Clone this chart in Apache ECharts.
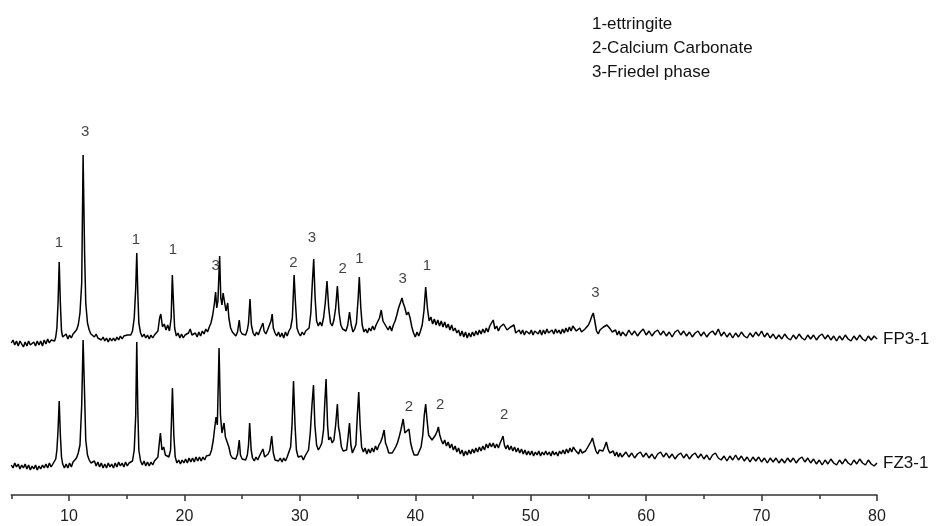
<!DOCTYPE html>
<html>
<head>
<meta charset="utf-8">
<script src="https://cdn.jsdelivr.net/npm/echarts@6.0.0/dist/echarts.min.js"></script>
<style>html,body{margin:0;padding:0;background:#fff}#chart{width:940px;height:526px}</style>
</head>
<body>
<div id="chart"></div>
<script>
// 2-theta (deg) vs intensity (arbitrary units)
const fp3Data = [
[5.0,30],[5.15,33],[5.3,28],[5.45,32],[5.6,27],[5.75,32],[5.9,29],[6.05,26],[6.2,31],[6.35,27],[6.5,32],[6.65,28],[6.8,26],[6.95,31],[7.1,27],[7.25,32],[7.4,28],[7.55,32],[7.7,27],[7.85,33],[8.0,29],[8.15,34],[8.3,30],[8.45,33],[8.6,34],[8.75,32],[8.85,36],[8.95,45],[9.05,70],[9.15,111],[9.25,70],[9.35,42],[9.45,36],[9.6,34],[9.75,39],[9.9,34],[10.05,38],[10.2,35],[10.35,39],[10.5,40],[10.65,43],[10.8,48],[10.95,60],[11.1,90],[11.22,218],[11.35,120],[11.45,70],[11.6,50],[11.75,43],[11.9,39],[12.05,38],
[12.2,36],[12.35,39],[12.5,35],[12.65,37],[12.8,33],[12.95,36],[13.1,32],[13.25,35],[13.4,31],[13.55,35],[13.7,32],[13.85,35],[14.0,32],[14.15,36],[14.3,33],[14.45,37],[14.6,34],[14.75,37],[14.9,35],[15.05,38],[15.2,36],[15.35,38],[15.5,42],[15.65,55],[15.78,85],[15.87,120],[15.96,80],[16.05,50],[16.2,40],[16.35,36],[16.5,39],[16.65,35],[16.8,38],[16.95,34],[17.1,38],[17.25,35],[17.4,38],[17.55,36],[17.7,42],[17.85,55],[17.95,59],[18.1,46],[18.25,49],[18.4,43],[18.55,48],[18.7,42],[18.85,55],[18.95,98],[19.05,70],[19.15,45],[19.3,37],[19.45,40],[19.6,35],[19.75,39],[19.9,35],[20.05,38],[20.2,36],[20.35,40],[20.5,44],[20.65,38],[20.8,36],[20.95,40],[21.1,36],[21.25,41],[21.4,37],[21.55,42],[21.7,39],[21.85,44],[22.0,41],[22.15,46],[22.3,50],[22.45,58],[22.6,70],[22.7,81],[22.8,65],[22.9,72],[23.05,117],[23.15,75],[23.25,68],[23.35,80],[23.5,78],[23.6,62],[23.75,70],[23.85,55],[24.0,45],[24.15,41],[24.3,43],[24.45,37],[24.6,41],[24.75,53],[24.85,42],[25.0,39],[25.15,41],[25.3,38],[25.45,43],[25.55,50],[25.68,74],[25.8,48],[25.95,40],[26.1,37],[26.25,41],[26.4,38],[26.55,43],[26.7,44],[26.8,50],[26.9,42],[27.05,39],[27.2,43],[27.35,44],[27.5,52],[27.6,59],[27.7,45],[27.85,40],[28.0,37],[28.15,41],[28.3,36],[28.45,40],[28.6,35],[28.75,41],[28.9,37],[29.05,42],[29.2,45],[29.35,55],[29.5,98],[29.62,70],[29.75,45],[29.9,40],[30.05,37],[30.2,41],[30.35,38],[30.5,42],[30.65,41],[30.8,45],[30.95,60],[31.08,90],[31.2,114],[31.32,75],[31.45,52],[31.6,47],[31.75,51],[31.9,47],[32.05,55],[32.2,70],[32.35,92],[32.5,65],[32.65,50],[32.8,47],[32.95,53],[33.1,65],[33.25,87],[33.4,60],[33.55,48],[33.7,44],[33.85,46],[34.0,42],[34.15,48],[34.3,61],[34.45,48],[34.6,41],[34.75,44],[34.9,50],[35.05,75],[35.15,96],[35.28,65],[35.4,48],[35.55,41],[35.7,44],[35.85,40],[36.0,45],[36.15,42],[36.3,47],[36.45,43],[36.6,48],[36.75,50],[36.9,55],[37.05,63],[37.2,52],[37.35,54],[37.5,46],[37.65,43],[37.8,47],[37.95,42],[38.1,48],[38.25,52],[38.4,58],[38.55,65],[38.7,70],[38.85,75],[38.95,70],[39.1,65],[39.25,58],[39.4,61],[39.55,55],[39.7,46],[39.85,40],[40.0,36],[40.15,41],[40.3,37],[40.45,42],[40.6,48],[40.75,62],[40.9,86],[41.05,65],[41.2,52],[41.35,56],[41.5,49],[41.65,54],[41.8,48],[41.95,53],[42.1,47],[42.25,52],[42.4,46],[42.55,51],[42.7,45],[42.85,49],[43.0,43],[43.15,48],[43.3,42],[43.45,45],[43.6,40],[43.75,43],[43.9,37],[44.05,42],[44.2,36],[44.35,41],[44.5,35],[44.65,40],[44.8,36],[44.95,41],[45.1,37],[45.25,42],[45.4,38],[45.55,43],[45.7,39],[45.85,44],[46.0,40],[46.15,45],[46.3,41],[46.45,47],[46.6,45],[46.75,53],[46.9,44],[47.05,47],[47.2,42],[47.35,46],[47.5,47],[47.65,49],[47.8,51],[47.95,43],[48.1,41],[48.25,46],[48.4,45],[48.55,48],[48.7,40],[48.85,38],[49.0,43],[49.15,39],[49.3,43],[49.45,38],[49.6,42],[49.75,44],[49.9,39],[50.05,43],[50.2,38],[50.35,42],[50.5,44],[50.65,39],[50.8,43],[50.95,38],[51.1,43],[51.25,39],[51.4,44],[51.55,40],[51.7,38],[51.85,43],[52.0,39],[52.15,44],[52.3,40],[52.45,43],[52.6,39],[52.75,44],[52.9,40],[53.05,45],[53.2,41],[53.35,46],[53.5,42],[53.65,47],[53.8,45],[53.95,42],[54.1,40],[54.25,45],[54.4,41],[54.55,39],[54.7,44],[54.85,45],[55.0,48],[55.15,52],[55.3,57],[55.42,60],[55.55,52],[55.7,42],[55.85,39],[56.0,43],[56.15,44],[56.3,46],[56.45,44],[56.6,48],[56.75,50],[56.9,44],[57.05,41],[57.2,39],[57.35,43],[57.5,38],[57.65,42],[57.8,37],[57.95,41],
[58.0,41],[58.25,37],[58.5,43],[58.75,38],[59.0,42],[59.25,37],[59.5,41],[59.75,44],[60.0,38],[60.25,42],[60.5,37],[60.75,41],[61.0,43],[61.25,38],[61.5,42],[61.75,37],[62.0,41],[62.25,36],[62.5,41],[62.75,43],[63.0,38],[63.25,42],[63.5,37],[63.75,41],[64.0,36],[64.25,40],[64.5,42],[64.75,37],[65.0,41],[65.25,36],[65.5,40],[65.75,42],[66.0,38],[66.25,44],[66.5,37],[66.75,41],[67.0,36],[67.25,40],[67.5,35],[67.75,40],[68.0,36],[68.25,41],[68.5,37],[68.75,35],[69.0,40],[69.25,36],[69.5,41],[69.75,37],[70.0,42],[70.25,36],[70.5,40],[70.75,35],[71.0,39],[71.25,34],[71.5,38],[71.75,34],[72.0,39],[72.25,35],[72.5,33],[72.75,38],[73.0,34],[73.25,39],[73.5,35],[73.75,33],[74.0,38],[74.25,34],[74.5,38],[74.75,33],[75.0,37],[75.25,39],[75.5,34],[75.75,38],[76.0,33],[76.25,37],[76.5,32],[76.75,37],[77.0,33],[77.25,38],[77.5,34],[77.75,32],[78.0,37],[78.25,33],[78.5,38],[78.75,34],[79.0,32],[79.25,37],[79.5,33],[79.75,37],[80.0,34]
];
const fz3Data = [
[5.0,30],[5.15,27],[5.3,32],[5.45,28],[5.6,31],[5.75,26],[5.9,30],[6.05,27],[6.2,31],[6.35,26],[6.5,30],[6.65,25],[6.8,29],[6.95,26],[7.1,30],[7.25,25],[7.4,29],[7.55,26],[7.7,30],[7.85,27],[8.0,31],[8.15,27],[8.3,32],[8.45,28],[8.6,31],[8.75,32],[8.85,36],[8.95,45],[9.05,65],[9.15,94],[9.25,60],[9.35,38],[9.45,31],[9.6,27],[9.75,31],[9.9,27],[10.05,32],[10.2,28],[10.35,33],[10.5,35],[10.65,37],[10.8,42],[10.95,50],[11.1,90],[11.22,155],[11.35,100],[11.45,55],[11.6,40],[11.75,35],[11.9,32],[12.05,30],[12.2,34],[12.35,29],[12.5,33],[12.65,28],[12.8,32],[12.95,27],[13.1,31],[13.25,27],[13.4,32],[13.55,28],[13.7,31],[13.85,27],[14.0,32],[14.15,28],[14.3,33],[14.45,29],[14.6,32],[14.75,28],[14.9,33],[15.05,29],[15.2,32],[15.35,30],[15.5,34],[15.65,45],[15.78,80],[15.87,153],[15.96,85],[16.05,45],[16.2,34],[16.35,30],[16.5,34],[16.65,29],[16.8,33],[16.95,29],[17.1,33],[17.25,30],[17.4,34],[17.55,32],[17.7,38],[17.85,55],[17.92,62],[18.05,45],[18.2,48],[18.35,40],[18.5,42],[18.65,38],[18.8,45],[18.96,107],[19.08,60],[19.2,38],[19.35,32],[19.5,35],[19.65,31],[19.8,35],[19.95,32],[20.1,36],[20.25,32],[20.4,37],[20.55,33],[20.7,37],[20.85,33],[21.0,38],[21.15,34],[21.3,38],[21.45,34],[21.6,38],[21.75,35],[21.9,39],[22.05,37],[22.2,40],[22.35,45],[22.5,55],[22.6,65],[22.74,78],[22.85,70],[23.0,147],[23.12,80],[23.25,62],[23.43,72],[23.55,58],[23.7,60],[23.85,48],[24.0,40],[24.15,37],[24.3,39],[24.45,36],[24.6,41],[24.75,55],[24.85,40],[25.0,36],[25.15,38],[25.3,35],[25.45,40],[25.55,50],[25.65,72],[25.78,45],[25.9,37],[26.05,34],[26.2,38],[26.35,35],[26.5,39],[26.65,40],[26.8,46],[26.95,38],[27.1,36],[27.25,41],[27.4,45],[27.56,59],[27.7,42],[27.85,35],[28.0,37],[28.15,34],[28.3,37],[28.45,33],[28.6,37],[28.75,34],[28.9,38],[29.05,40],[29.2,48],[29.32,70],[29.45,114],[29.58,70],[29.7,45],[29.85,38],[30.0,36],[30.15,39],[30.3,35],[30.45,39],[30.6,40],[30.75,45],[30.9,62],[31.05,90],[31.18,110],[31.3,70],[31.45,50],[31.6,45],[31.75,48],[31.9,52],[32.05,65],[32.15,90],[32.27,116],[32.4,70],[32.5,55],[32.65,58],[32.8,52],[32.95,55],[33.1,70],[33.25,91],[33.35,68],[33.45,62],[33.6,48],[33.75,44],[33.9,42],[34.05,45],[34.15,55],[34.3,72],[34.42,50],[34.55,42],[34.7,40],[34.85,50],[34.98,80],[35.1,103],[35.22,70],[35.35,48],[35.5,43],[35.65,47],[35.8,41],[35.95,46],[36.1,42],[36.25,47],[36.4,43],[36.55,49],[36.7,45],[36.85,50],[37.0,53],[37.15,58],[37.3,65],[37.42,52],[37.55,48],[37.7,42],[37.85,40],[38.0,42],[38.15,45],[38.3,48],[38.45,52],[38.6,58],[38.75,65],[38.95,76],[39.1,62],[39.25,60],[39.45,66],[39.6,52],[39.75,45],[39.9,40],[40.05,38],[40.2,40],[40.35,42],[40.5,48],[40.65,60],[40.78,80],[40.9,91],[41.02,75],[41.15,60],[41.3,58],[41.45,55],[41.6,56],[41.75,60],[41.9,64],[42.0,68],[42.12,60],[42.25,55],[42.4,51],[42.55,55],[42.7,49],[42.85,53],[43.0,47],[43.15,51],[43.3,45],[43.45,49],[43.6,43],[43.75,47],[43.9,41],[44.05,45],[44.2,39],[44.35,44],[44.5,40],[44.65,45],[44.8,41],[44.95,46],[45.1,42],[45.25,47],[45.4,43],[45.55,48],[45.7,44],[45.85,49],[46.0,45],[46.15,51],[46.3,47],[46.45,52],[46.6,48],[46.75,52],[46.9,47],[47.05,51],[47.2,47],[47.35,52],[47.5,56],[47.6,59],[47.72,50],[47.85,46],[48.0,50],[48.15,45],[48.3,49],[48.45,44],[48.6,48],[48.75,43],[48.9,47],[49.05,42],[49.2,46],[49.35,41],[49.5,45],[49.65,40],[49.8,44],[49.95,40],[50.1,44],[50.25,39],[50.4,43],[50.55,40],[50.7,44],[50.85,39],[51.0,43],[51.15,40],[51.3,44],[51.45,40],[51.6,43],[51.75,39],[51.9,44],[52.05,40],[52.2,43],[52.35,39],[52.5,44],[52.65,41],[52.8,45],[52.95,41],[53.1,46],[53.25,42],[53.4,47],[53.55,43],[53.7,48],[53.85,45],[54.0,43],[54.15,41],[54.3,46],[54.45,42],[54.6,40],[54.75,44],[54.9,47],[55.05,50],[55.2,53],[55.35,57],[55.5,50],[55.65,44],[55.8,41],[55.95,45],[56.1,46],[56.25,44],[56.4,48],[56.55,53],[56.7,46],[56.85,42],[57.0,40],[57.15,44],[57.3,39],[57.45,43],[57.6,38],[57.75,42],[57.9,38],
[58.0,40],[58.25,43],[58.5,38],[58.75,42],[59.0,37],[59.25,41],[59.5,43],[59.75,38],[60.0,42],[60.25,37],[60.5,41],[60.75,36],[61.0,41],[61.25,43],[61.5,38],[61.75,42],[62.0,37],[62.25,41],[62.5,36],[62.75,40],[63.0,42],[63.25,37],[63.5,41],[63.75,36],[64.0,40],[64.25,42],[64.5,37],[64.75,41],[65.0,36],[65.25,40],[65.5,35],[65.75,40],[66.0,42],[66.25,37],[66.5,35],[66.75,39],[67.0,34],[67.25,39],[67.5,35],[67.75,40],[68.0,35],[68.25,39],[68.5,34],[68.75,38],[69.0,33],[69.25,38],[69.5,34],[69.75,38],[70.0,33],[70.25,37],[70.5,32],[70.75,37],[71.0,33],[71.25,37],[71.5,32],[71.75,36],[72.0,32],[72.25,37],[72.5,33],[72.75,37],[73.0,32],[73.25,36],[73.5,38],[73.75,33],[74.0,37],[74.25,32],[74.5,36],[74.75,31],[75.0,35],[75.25,30],[75.5,35],[75.75,31],[76.0,36],[76.25,32],[76.5,30],[76.75,35],[77.0,31],[77.25,36],[77.5,32],[77.75,30],[78.0,35],[78.25,31],[78.5,36],[78.75,32],[79.0,30],[79.25,35],[79.5,31],[79.75,29],[80.0,32]
];
const seriesNames = ['FP3-1', 'FZ3-1'];
const seriesOffsets = [122, 0];
// peak annotations: [2theta, height, phase number]
const fpPeakLabels = [[9.13,252,'1'],[11.4,363,'3'],[15.8,255,'1'],[19.0,245,'1'],[22.7,229,'3'],[29.45,232,'2'],[31.05,257,'3'],[33.7,226,'2'],[35.15,236,'1'],[38.9,216,'3'],[41.0,229,'1'],[55.6,202,'3']];
const fzPeakLabels = [[39.45,88,'2'],[42.15,90,'2'],[47.7,80,'2']];
const legendLines = ['1-ettringite', '2-Calcium Carbonate', '3-Friedel phase'];
const majorTicks = [10,20,30,40,50,60,70,80];
const minorTicks = [5,15,25,35,45,55,65,75];

const FONT = '"Liberation Sans", Arial, sans-serif';
const chart = echarts.init(document.getElementById('chart'), null, {renderer: 'canvas'});
const traces = [fp3Data, fz3Data];
const lineSeries = traces.map((d, i) => ({
  type: 'line',
  name: seriesNames[i],
  data: d.map(p => [p[0], p[1] + seriesOffsets[i]]),
  showSymbol: false,
  symbol: 'none',
  smooth: false,
  lineStyle: {color: '#000', width: 1.5},
  endLabel: {show: true, formatter: '{a}', distance: 6, fontSize: 17, color: '#111', fontFamily: FONT},
  silent: true,
  z: 2
}));
const labelSeries = {
  type: 'scatter',
  data: fpPeakLabels.concat(fzPeakLabels).map(p => ({value: [p[0], p[1]], name: p[2]})),
  symbolSize: 1,
  itemStyle: {color: 'rgba(0,0,0,0)'},
  label: {show: true, position: 'inside', formatter: p => p.name, fontSize: 15, color: '#111', fontFamily: FONT},
  silent: true,
  z: 3
};
chart.setOption({
  animation: false,
  backgroundColor: '#fff',
  title: {
    text: legendLines.join('\n'),
    left: 587, top: 7,
    textStyle: {fontSize: 17, fontWeight: 'normal', color: '#111', lineHeight: 24, fontFamily: FONT}
  },
  grid: {left: 11.3, right: 63, top: 95, bottom: 31, containLabel: false},
  xAxis: [
    {
      type: 'value', min: 5, max: 80, interval: 5, position: 'bottom',
      axisLine: {show: true, onZero: false, lineStyle: {color: '#333', width: 1.5}},
      axisTick: {show: true, customValues: majorTicks, length: 6, lineStyle: {color: '#333', width: 1.5}},
      axisLabel: {customValues: majorTicks, fontSize: 16, color: '#222', margin: 14, fontFamily: FONT},
      splitLine: {show: false}
    },
    {
      type: 'value', min: 5, max: 80, interval: 5, position: 'bottom', offset: 0,
      axisLine: {show: false},
      axisTick: {show: true, customValues: minorTicks, length: 4, lineStyle: {color: '#333', width: 1.5}},
      axisLabel: {show: false},
      splitLine: {show: false}
    }
  ],
  yAxis: {type: 'value', min: 0, max: 400, show: false},
  series: lineSeries.concat([labelSeries])
});
</script>
</body>
</html>
